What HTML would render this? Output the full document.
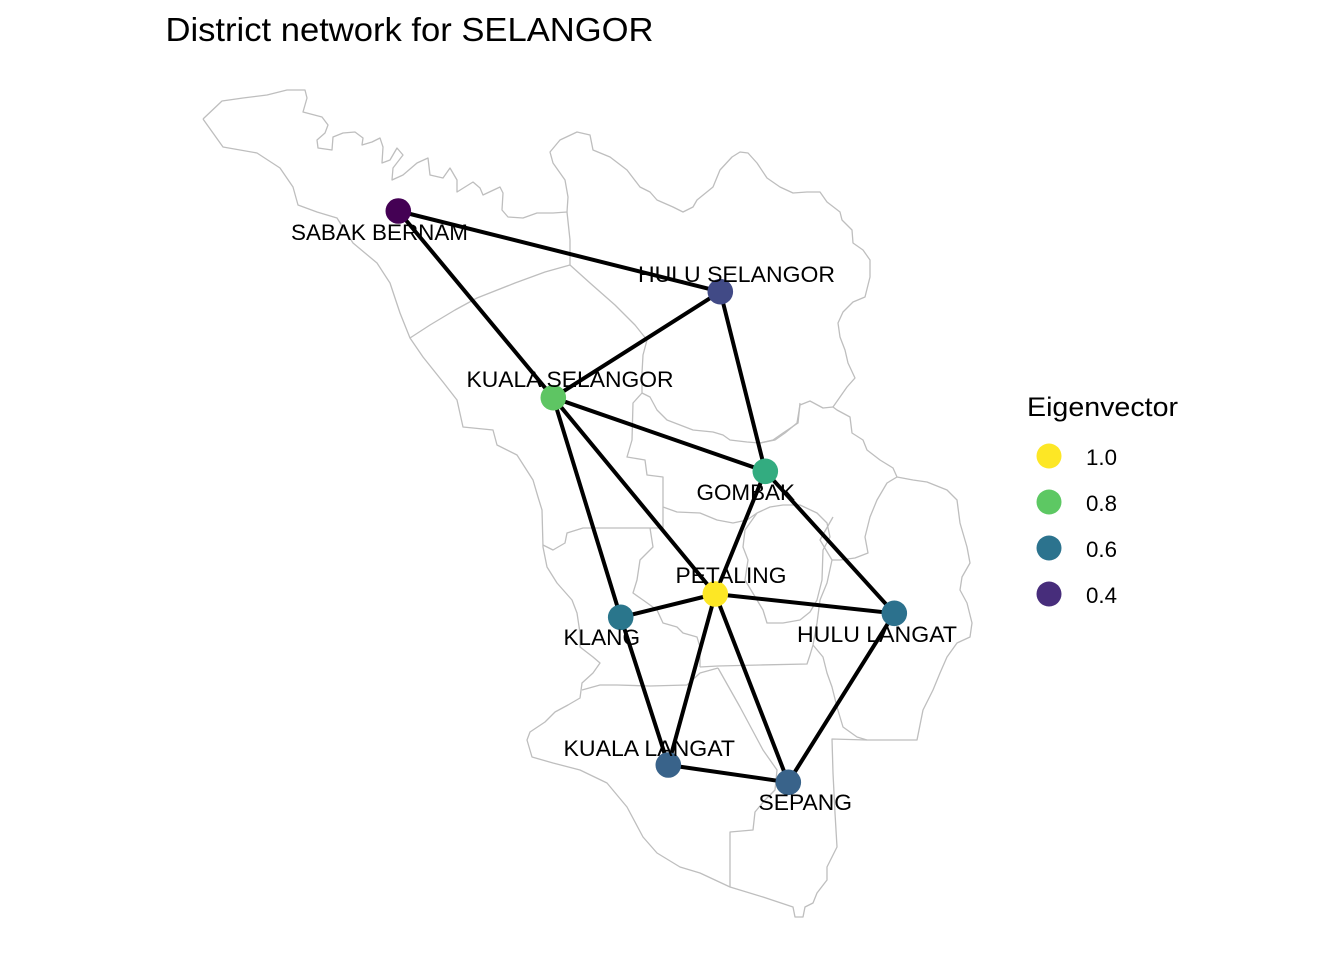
<!DOCTYPE html>
<html><head><meta charset="utf-8"><style>
html,body{margin:0;padding:0;background:#fff;}
svg{display:block;}
text{font-family:"Liberation Sans",Arial,sans-serif;fill:#000;}
</style></head><body>
<svg width="1344" height="960" viewBox="0 0 1344 960" xmlns="http://www.w3.org/2000/svg">
<rect width="1344" height="960" fill="#fff"/>
<g fill="none" stroke="#BEBEBE" stroke-width="1.3" stroke-linejoin="round">
<polyline points="203,119 222,101 243,98 267,95 287,90 305,90 307,98 303,112 322,117 328,125 325,133 317,140 318,148 332,150 333,137 343,133 355,132 363,138 362,145 372,142 380,138 383,147 382,163 390,160 397,148 403,155 393,168 392,180 403,175 417,163 428,158 430,175 443,178 450,168 457,180 457,192 473,182 480,188 483,195 500,187 503,193 502,210 508,217 523,218 537,213 553,213 567,212 568,197 565,180 553,163 550,152 560,140 577,132 590,135 593,150 610,157 627,170 640,187 650,192 657,200 673,207 683,212 693,207 697,200 713,187 720,170 732,157 740,152 748,153 757,163 767,178 780,187 793,193 807,192 820,192 827,202 840,212 842,220 852,230 853,243 863,250 870,260 870,277 865,297 853,302 843,312 838,323 840,337 845,350 848,363 855,378 847,387 840,397 833,407 837,410 850,417 852,433 863,440 867,450 880,460 893,468 897,477 913,480 927,482 947,490 957,500 960,523 967,547 970,563 962,577 960,590 967,603 972,623 970,637 957,643 947,657 940,673 933,690 923,710 917,740 867,740 832,739 833,773 835,813 837,847 832,857 827,867 827,880 817,893 813,903 805,907 803,917 795,917 793,907 763,897 730,887 700,873 680,867 657,853 643,837 627,807 607,783 580,770 553,763 532,757 527,740 530,732 545,722 555,712 568,705 580,698 582,683 593,673 600,663 593,657 580,647 580,633 577,613 572,600 557,583 547,567 543,547 542,510 538,497 533,480 517,455 497,445 493,430 463,427 457,400 443,382 423,357 410,338 400,313 390,283 377,263 353,243 337,218 317,212 298,205 293,187 280,168 257,153 223,147 203,119"/>
<polyline points="567,212 570,240 570,265"/>
<polyline points="570,265 545,272 515,283 477,298 455,310 430,325 410,338"/>
<polyline points="570,265 590,283 615,305 635,325 647,340 643,355 642,373 642,393 633,403 632,440 627,457 645,460 647,475 663,477 663,528"/>
<polyline points="642,393 650,397 657,410 667,420 680,425 693,430 713,432 723,435 730,440 747,442 760,443 775,440 785,433 797,423 800,405 810,401 823,408 833,407"/>
<polyline points="543,545 553,550 565,543 567,533 583,528 620,528 650,528 663,528"/>
<polyline points="650,528 653,547 640,560 637,580 633,593 643,600 657,610 663,623 677,627 683,633 697,637 700,647 700,667"/>
<polyline points="582,690 600,685 617,685 650,686 687,685 700,673 718,668"/>
<polyline points="700,667 718,666 760,665 807,664 810,655 813,645 817,623 820,600 827,583 832,560 820,540 833,517"/>
<polyline points="813,645 823,657 827,673 832,687 837,707 843,727 857,737 867,740"/>
<polyline points="718,668 740,707 763,750 777,770 775,790 765,800 755,812 753,830 730,832 730,887"/>
<polyline points="897,477 887,483 877,500 870,517 865,537 868,553 855,558 840,560 832,560"/>
<polyline points="663,507 677,512 700,513 717,520 733,523 747,520 757,513 770,507 783,505 800,505 817,513 827,523 830,537 823,550 822,580 817,600 810,612 800,620 783,623 767,623 763,610 757,600 745,580 748,560 743,547 745,530 757,513"/>
<polyline points="760,443 773,440 783,433 798,423 800,403"/>
</g>
<g stroke="#000" stroke-width="4" stroke-linecap="round" fill="none">
<line x1="398.3" y1="211" x2="720.3" y2="291.7"/>
<line x1="398.3" y1="211" x2="553.3" y2="397.7"/>
<line x1="720.3" y1="291.7" x2="553.3" y2="397.7"/>
<line x1="720.3" y1="291.7" x2="765.3" y2="471.3"/>
<line x1="553.3" y1="397.7" x2="765.3" y2="471.3"/>
<line x1="553.3" y1="397.7" x2="715.3" y2="594"/>
<line x1="553.3" y1="397.7" x2="620.7" y2="617.3"/>
<line x1="765.3" y1="471.3" x2="715.3" y2="594"/>
<line x1="765.3" y1="471.3" x2="894.3" y2="613.3"/>
<line x1="715.3" y1="594" x2="620.7" y2="617.3"/>
<line x1="715.3" y1="594" x2="894.3" y2="613.3"/>
<line x1="715.3" y1="594" x2="668.3" y2="765"/>
<line x1="715.3" y1="594" x2="788.3" y2="782.3"/>
<line x1="620.7" y1="617.3" x2="668.3" y2="765"/>
<line x1="668.3" y1="765" x2="788.3" y2="782.3"/>
<line x1="894.3" y1="613.3" x2="788.3" y2="782.3"/>
</g>
<g>
<circle cx="398.3" cy="211" r="12.8" fill="#440154"/>
<circle cx="720.3" cy="291.7" r="12.8" fill="#414A86"/>
<circle cx="553.3" cy="397.7" r="12.8" fill="#5EC563"/>
<circle cx="765.3" cy="471.3" r="12.8" fill="#33AC80"/>
<circle cx="715.3" cy="594" r="12.8" fill="#FDE725"/>
<circle cx="620.7" cy="617.3" r="12.8" fill="#2A768C"/>
<circle cx="894.3" cy="613.3" r="12.8" fill="#2C718D"/>
<circle cx="668.3" cy="765" r="12.8" fill="#39638A"/>
<circle cx="788.3" cy="782.3" r="12.8" fill="#39638A"/>
</g>
<g font-size="22.5">
<text x="291" y="240" textLength="177" lengthAdjust="spacingAndGlyphs">SABAK BERNAM</text>
<text x="638" y="282" textLength="197" lengthAdjust="spacingAndGlyphs">HULU SELANGOR</text>
<text x="466.5" y="387" textLength="207" lengthAdjust="spacingAndGlyphs">KUALA SELANGOR</text>
<text x="696.5" y="500" textLength="98.5" lengthAdjust="spacingAndGlyphs">GOMBAK</text>
<text x="675.5" y="583" textLength="111" lengthAdjust="spacingAndGlyphs">PETALING</text>
<text x="563.5" y="645" textLength="76.5" lengthAdjust="spacingAndGlyphs">KLANG</text>
<text x="797" y="642" textLength="160" lengthAdjust="spacingAndGlyphs">HULU LANGAT</text>
<text x="563.5" y="756" textLength="171.5" lengthAdjust="spacingAndGlyphs">KUALA LANGAT</text>
<text x="758.5" y="810" textLength="93.5" lengthAdjust="spacingAndGlyphs">SEPANG</text>
</g>
<text x="165.5" y="41" font-size="33" textLength="488" lengthAdjust="spacingAndGlyphs">District network for SELANGOR</text>
<text x="1027" y="416" font-size="27" textLength="151" lengthAdjust="spacingAndGlyphs">Eigenvector</text>
<circle cx="1049" cy="456" r="12.5" fill="#FDE725"/>
<circle cx="1049" cy="502" r="12.5" fill="#5DC863"/>
<circle cx="1049" cy="548" r="12.5" fill="#2C738E"/>
<circle cx="1049" cy="594" r="12.5" fill="#472D7B"/>
<g font-size="22">
<text x="1086" y="465" textLength="31" lengthAdjust="spacingAndGlyphs">1.0</text>
<text x="1086" y="511" textLength="31" lengthAdjust="spacingAndGlyphs">0.8</text>
<text x="1086" y="557" textLength="31" lengthAdjust="spacingAndGlyphs">0.6</text>
<text x="1086" y="603" textLength="31" lengthAdjust="spacingAndGlyphs">0.4</text>
</g>
</svg>
</body></html>
